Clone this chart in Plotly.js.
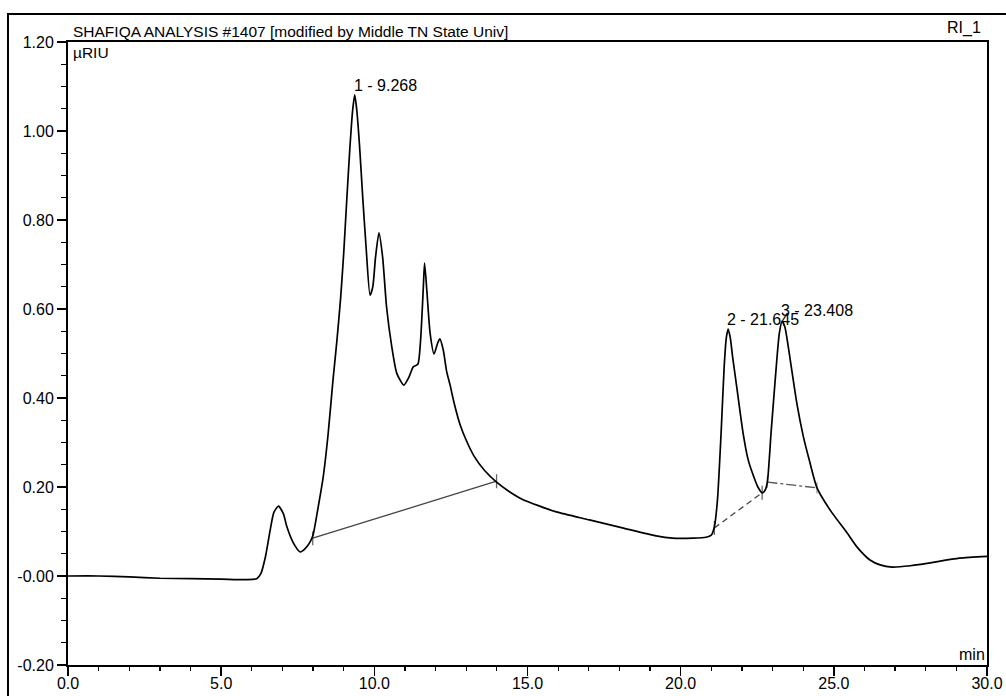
<!DOCTYPE html>
<html>
<head>
<meta charset="utf-8">
<script src="https://cdn.plot.ly/plotly-3.0.1.min.js"></script>
<style>html,body{margin:0;padding:0;background:#fff;}#chart{width:1006px;height:696px;}</style>
</head>
<body>
<div id="chart"></div>
<script>
// Chromatogram trace (min, µRIU)
const retentionTime = [0, 1, 2, 3, 4, 5, 5.8, 6.16, 6.3, 6.45, 6.6, 6.72, 6.87, 7.03, 7.14, 7.36, 7.58, 7.75, 7.9, 8.0, 8.15, 8.33, 8.49, 8.65, 8.78, 8.9, 9.0, 9.1, 9.2, 9.29, 9.36, 9.43, 9.52, 9.62, 9.73, 9.86, 9.95, 10.04, 10.15, 10.27, 10.4, 10.57, 10.73, 10.96, 11.13, 11.27, 11.42, 11.51, 11.6, 11.64, 11.72, 11.82, 11.95, 12.07, 12.14, 12.25, 12.36, 12.47, 12.6, 12.8, 13.0, 13.25, 13.6, 13.99, 14.4, 14.84, 15.4, 15.94, 17.02, 18.1, 19.2, 19.73, 20.4, 20.83, 21.0, 21.1, 21.2, 21.32, 21.42, 21.49, 21.55, 21.62, 21.7, 21.84, 22.04, 22.2, 22.36, 22.52, 22.66, 22.75, 22.83, 22.95, 23.12, 23.22, 23.31, 23.4, 23.48, 23.6, 23.8, 24.0, 24.2, 24.45, 24.88, 25.43, 25.76, 26.18, 26.51, 26.9, 27.5, 28.1, 29.1, 30];
const signalRIU = [0, 0, -0.002, -0.005, -0.006, -0.007, -0.008, -0.006, 0.006, 0.045, 0.103, 0.143, 0.157, 0.14, 0.112, 0.074, 0.054, 0.062, 0.076, 0.092, 0.148, 0.222, 0.318, 0.44, 0.53, 0.625, 0.725, 0.845, 0.96, 1.045, 1.081, 1.045, 0.964, 0.852, 0.74, 0.631, 0.65, 0.717, 0.771, 0.717, 0.604, 0.515, 0.456, 0.429, 0.447, 0.47, 0.476, 0.53, 0.65, 0.703, 0.636, 0.546, 0.499, 0.524, 0.533, 0.508, 0.46, 0.43, 0.39, 0.34, 0.305, 0.27, 0.237, 0.211, 0.19, 0.172, 0.157, 0.144, 0.126, 0.108, 0.09, 0.085, 0.085, 0.087, 0.092, 0.11, 0.17, 0.321, 0.47, 0.535, 0.555, 0.535, 0.49, 0.42, 0.32, 0.262, 0.228, 0.2, 0.187, 0.192, 0.211, 0.321, 0.47, 0.545, 0.572, 0.56, 0.53, 0.475, 0.385, 0.315, 0.26, 0.198, 0.148, 0.097, 0.065, 0.036, 0.025, 0.02, 0.023, 0.029, 0.04, 0.044];

// Integration baselines
const baseline1Time = [7.99, 13.99];
const baseline1Signal = [0.085, 0.213];
const baseline2Time = [21.1, 22.66];
const baseline2Signal = [0.108, 0.187];
const baseline3Time = [22.83, 24.45];
const baseline3Signal = [0.211, 0.198];

// Peak labels
const peakLabels = ["1 - 9.268", "2 - 21.645", "3 - 23.408"];
const peakTime = [9.36, 21.55, 23.31];
const peakSignal = [1.081, 0.555, 0.572];

// Axis ticks
const xTickVals = [0, 5, 10, 15, 20, 25, 30];
const xTickText = ["0.0", "5.0", "10.0", "15.0", "20.0", "25.0", "30.0"];
const yTickVals = [-0.2, 0, 0.2, 0.4, 0.6, 0.8, 1.0, 1.2];
const yTickText = ["-0.20", "-0.00", "0.20", "0.40", "0.60", "0.80", "1.00", "1.20"];

const FONT = "Liberation Sans, Arial, sans-serif";

const traces = [
  {x: baseline1Time, y: baseline1Signal, mode: "lines+markers", line: {color: "#444", width: 1.3},
   marker: {symbol: "line-ns", size: 10, line: {color: "#666", width: 1.3}}, hoverinfo: "skip"},
  {x: baseline2Time, y: baseline2Signal, mode: "lines+markers", line: {color: "#444", width: 1.3, dash: "6px,4px"},
   marker: {symbol: "line-ns", size: 10, line: {color: "#666", width: 1.3}}, hoverinfo: "skip"},
  {x: baseline3Time, y: baseline3Signal, mode: "lines+markers", line: {color: "#555", width: 1.3, dash: "10px,3px,3px,3px"},
   marker: {symbol: "line-ns", size: 8, line: {color: "#999", width: 1.2}}, hoverinfo: "skip"},
  {x: retentionTime, y: signalRIU, mode: "lines", line: {color: "#000", width: 1.7, shape: "spline", smoothing: 0.6}}
];

const annotations = peakLabels.map((t, i) => ({
  x: peakTime[i], y: peakSignal[i], xref: "x", yref: "y", text: t, showarrow: false,
  xanchor: "left", yanchor: "bottom", xshift: -3, yshift: i === 2 ? 0 : -1,
  font: {family: FONT, size: 16, color: "#000"}
}));
annotations.push(
  {xref: "paper", yref: "paper", x: 0.003, y: 1, xanchor: "left", yanchor: "bottom", showarrow: false,
   text: "SHAFIQA ANALYSIS #1407 [modified by Middle TN State Univ]", font: {family: FONT, size: 15.5, color: "#000"}},
  {xref: "paper", yref: "paper", x: 0.003, y: 1, xanchor: "left", yanchor: "top", showarrow: false,
   text: "µRIU", font: {family: FONT, size: 15.5, color: "#000"}},
  {xref: "paper", yref: "paper", x: 0.996, y: 1, xanchor: "right", yanchor: "bottom", yshift: 3, showarrow: false,
   text: "RI_1", font: {family: FONT, size: 16, color: "#000"}},
  {xref: "paper", yref: "paper", x: 1.0, y: 0, xanchor: "right", yanchor: "bottom", showarrow: false,
   text: "min", font: {family: FONT, size: 16, color: "#000"}}
);

const layout = {
  width: 1006, height: 696,
  margin: {l: 68, r: 19, t: 42, b: 31, pad: 0},
  paper_bgcolor: "#fff", plot_bgcolor: "#fff",
  showlegend: false,
  font: {family: FONT, size: 16, color: "#000"},
  xaxis: {range: [0, 30], tickvals: xTickVals, ticktext: xTickText, ticks: "outside", ticklen: 9, tickwidth: 1.5,
          tickcolor: "#000", showgrid: false, zeroline: false, showline: true, linecolor: "#000", linewidth: 2,
          mirror: true, ticklabelstandoff: -6, tickfont: {family: FONT, size: 16, color: "#000"},
          minor: {dtick: 1, tick0: 0, ticks: "outside", ticklen: 4, tickcolor: "#000", tickwidth: 1.2, showgrid: false}},
  yaxis: {range: [-0.2, 1.2], tickvals: yTickVals, ticktext: yTickText, ticks: "outside", ticklen: 9, tickwidth: 1.5,
          tickcolor: "#000", showgrid: false, zeroline: false, showline: true, linecolor: "#000", linewidth: 2,
          mirror: true, tickfont: {family: FONT, size: 16, color: "#000"},
          minor: {dtick: 0.05, tick0: 0, ticks: "outside", ticklen: 5, tickcolor: "#000", tickwidth: 1.2, showgrid: false}},
  annotations: annotations,
  shapes: [
    {type: "rect", xref: "paper", yref: "paper", x0: -0.0653, x1: 1.05, y0: -0.08, y1: 1.045,
     line: {color: "#000", width: 2}, fillcolor: "rgba(0,0,0,0)", layer: "below"}
  ]
};

Plotly.newPlot("chart", traces, layout, {displayModeBar: false, staticPlot: true});
</script>
</body>
</html>
